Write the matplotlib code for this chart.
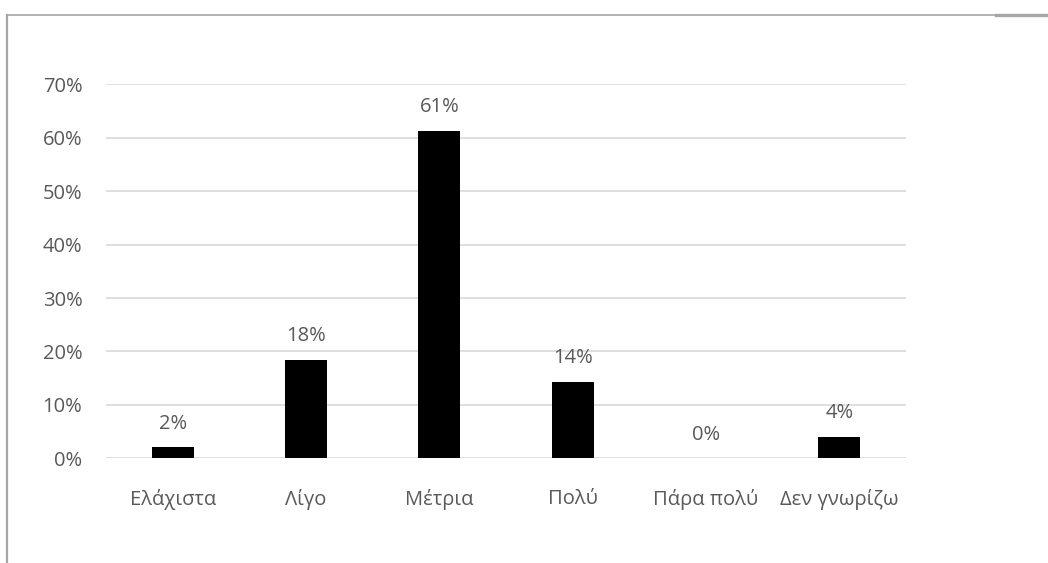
import matplotlib
matplotlib.use("Agg")
import matplotlib.pyplot as plt
from matplotlib.lines import Line2D
from matplotlib.ticker import PercentFormatter

categories = ["Ελάχιστα", "Λίγο", "Μέτρια", "Πολύ", "Πάρα πολύ", "Δεν γνωρίζω"]
values = [2.04, 18.37, 61.22, 14.29, 0.0, 4.08]
labels = ["2%", "18%", "61%", "14%", "0%", "4%"]
yticks = [0, 10, 20, 30, 40, 50, 60, 70]

plt.rcParams['font.family'] = ['Open Sans', 'DejaVu Sans']
text_color = '#595959'
fs = 14.5

W, H = 1048, 563
fig = plt.figure(figsize=(W/100, H/100), dpi=100)
ax = fig.add_axes([106/W, 1-458.3/H, 800/W, (458.3-84.3)/H])

x = range(len(categories))
ax.bar(x, values, width=0.315, color='black', zorder=3)
ax.set_xlim(-0.5, len(categories)-0.5)
ax.set_ylim(0, 70)
ax.set_yticks(yticks)
ax.yaxis.set_major_formatter(PercentFormatter(decimals=0))
ax.set_xticks(list(x))
ax.set_xticklabels(categories)
ax.grid(axis='y', color='#d9d9d9', linewidth=1.2, zorder=0)
for s in ax.spines.values():
    s.set_visible(False)
ax.tick_params(axis='both', length=0, labelsize=fs, colors=text_color)
ax.tick_params(axis='y', pad=17)
ax.tick_params(axis='x', pad=22)

for xi, v, lab in zip(x, values, labels):
    ax.annotate(lab, (xi, v), xytext=(0, 13.5), textcoords='offset points',
                ha='center', va='baseline', fontsize=fs, color=text_color)

# chart frame (partially visible)
fc = '#a6a6a6'
fig.add_artist(Line2D([6.7/W, 1.0], [1-14.7/H, 1-14.7/H], color=fc, linewidth=1.2,
                      transform=fig.transFigure))
fig.add_artist(Line2D([996/W, 1.0], [1-15.2/H, 1-15.2/H], color=fc, linewidth=2.4,
                      transform=fig.transFigure))
fig.add_artist(Line2D([6.7/W, 6.7/W], [0, 1-14.7/H], color=fc, linewidth=1.6,
                      transform=fig.transFigure))

fig.savefig("out.png", dpi=100)
